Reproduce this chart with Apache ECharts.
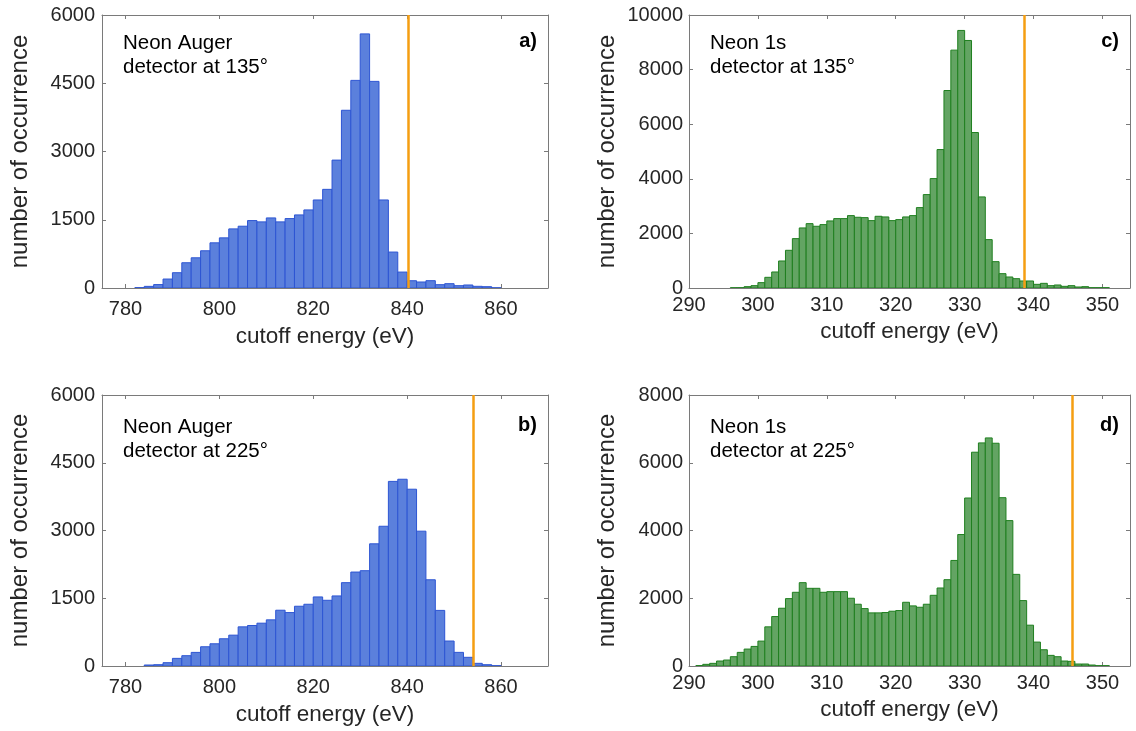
<!DOCTYPE html>
<html>
<head>
<meta charset="utf-8">
<script src="https://cdn.jsdelivr.net/npm/echarts@6/dist/echarts.min.js"></script>
<style>
  html, body { margin: 0; padding: 0; background: #ffffff; }
  #chart { width: 1136px; height: 731px; }
</style>
</head>
<body>
<div id="chart"></div>
<script>
// ---- Histogram data: left bin edges (eV) and counts ----
const augerBinWidth = 2;
const ne1sBinWidth = 1;

const auger135Left = [782, 784, 786, 788, 790, 792, 794, 796, 798, 800, 802, 804, 806, 808, 810, 812, 814, 816, 818, 820,
  822, 824, 826, 828, 830, 832, 834, 836, 838, 840, 842, 844, 846, 848, 850, 852, 854, 856, 858];
const auger135Counts = [8, 36, 75, 197, 336, 555, 664, 818, 993, 1102, 1299, 1358, 1482, 1453, 1540, 1453, 1526, 1606, 1716, 1935,
  2168, 2811, 3906, 4563, 5585, 4541, 1935, 790, 350, 160, 132, 161, 73, 95, 51, 66, 37, 29, 5];

const auger225Left = [784, 786, 788, 790, 792, 794, 796, 798, 800, 802, 804, 806, 808, 810, 812, 814, 816, 818, 820, 822,
  824, 826, 828, 830, 832, 834, 836, 838, 840, 842, 844, 846, 848, 850, 852, 854, 856, 858];
const auger225Counts = [22, 29, 73, 169, 228, 301, 426, 492, 603, 683, 867, 897, 948, 1022, 1235, 1183, 1323, 1367, 1529, 1455,
  1551, 1845, 2080, 2110, 2705, 3094, 4087, 4135, 3914, 2985, 1909, 1231, 553, 302, 192, 59, 29, 7];

const ne1s135Left = [296, 297, 298, 299, 300, 301, 302, 303, 304, 305, 306, 307, 308, 309, 310, 311, 312, 313, 314, 315,
  316, 317, 318, 319, 320, 321, 322, 323, 324, 325, 326, 327, 328, 329, 330, 331, 332, 333, 334, 335,
  336, 337, 338, 339, 340, 341, 342, 343, 344, 345, 346, 347, 348, 349, 350];
const ne1s135Counts = [10, 12, 49, 86, 196, 391, 587, 990, 1381, 1809, 2200, 2358, 2261, 2322, 2456, 2542, 2542, 2652, 2591, 2578,
  2468, 2627, 2603, 2468, 2505, 2603, 2652, 2945, 3422, 4008, 5071, 7234, 8713, 9434, 9067, 5695, 3336, 1772, 965, 525,
  403, 342, 257, 257, 134, 171, 86, 110, 61, 86, 37, 49, 12, 12, 12];

const ne1s225Left = [291, 292, 293, 294, 295, 296, 297, 298, 299, 300, 301, 302, 303, 304, 305, 306, 307, 308, 309, 310,
  311, 312, 313, 314, 315, 316, 317, 318, 319, 320, 321, 322, 323, 324, 325, 326, 327, 328, 329, 330,
  331, 332, 333, 334, 335, 336, 337, 338, 339, 340, 341, 342, 343, 344, 345, 346, 347, 348, 349, 350];
const ne1s225Counts = [12, 49, 78, 147, 176, 274, 402, 500, 578, 735, 1156, 1460, 1705, 1989, 2176, 2460, 2293, 2293, 2176, 2195,
  2195, 2195, 2000, 1823, 1695, 1568, 1568, 1578, 1617, 1637, 1881, 1774, 1734, 1823, 2087, 2303, 2548, 3116, 3881, 4959,
  6311, 6586, 6733, 6576, 4969, 4292, 2705, 1931, 1205, 706, 480, 314, 274, 147, 137, 59, 59, 29, 10, 10];

// Cutoff positions (eV) drawn as vertical markers
const cutoffAuger135 = 840.2;
const cutoffAuger225 = 854.0;
const cutoffNe1s135 = 338.6;
const cutoffNe1s225 = 345.6;

// Axis ranges and tick labels
const augerRange = [775, 870];
const ne1sRange = [290, 354];
const augerTicks = [780, 800, 820, 840, 860];
const ne1sTicks = [290, 300, 310, 320, 330, 340, 350];
const augerCountTicks = [0, 1500, 3000, 4500, 6000];
const ne1s135CountTicks = [0, 2000, 4000, 6000, 8000, 10000];
const ne1s225CountTicks = [0, 2000, 4000, 6000, 8000];

// Panel texts
const panels = [
  { tag: 'a)', line1: 'Neon Auger', line2: 'detector at 135°' },
  { tag: 'b)', line1: 'Neon Auger', line2: 'detector at 225°' },
  { tag: 'c)', line1: 'Neon 1s', line2: 'detector at 135°' },
  { tag: 'd)', line1: 'Neon 1s', line2: 'detector at 225°' }
];

// ---- Styling / layout ----
const FONT = '"Liberation Sans", Arial, Helvetica, sans-serif';
const TEXT_COLOR = '#262626';
const BOX_COLOR = '#7a7a7a';
const BLUE_FILL = '#5b80dc';
const BLUE_EDGE = '#2d55d3';
const GREEN_FILL = '#63a463';
const GREEN_EDGE = '#1f7f1f';
const ORANGE = '#f59e12';

const grids = [
  { left: 102, top: 15, width: 446, height: 273 },   // a
  { left: 102, top: 395, width: 446, height: 271 },  // b
  { left: 689, top: 15, width: 441, height: 273 },   // c
  { left: 689, top: 395, width: 441, height: 271 }   // d
];

function binData(left, counts, width) {
  return left.map((x, i) => [x, x + width, counts[i]]);
}

function histRender(fill, edge) {
  return function (params, api) {
    const topLeft = api.coord([api.value(0), api.value(2)]);
    const bottomRight = api.coord([api.value(1), 0]);
    return {
      type: 'rect',
      shape: {
        x: topLeft[0],
        y: topLeft[1],
        width: bottomRight[0] - topLeft[0],
        height: bottomRight[1] - topLeft[1]
      },
      style: { fill: fill, stroke: edge, lineWidth: 1 }
    };
  };
}

const plainNumber = v => String(v);

function bottomAxis(gridIndex, range, ticks, labelMargin, nameGap) {
  return {
    type: 'value', gridIndex: gridIndex, position: 'bottom',
    min: range[0], max: range[1],
    name: 'cutoff energy (eV)', nameLocation: 'middle', nameGap: nameGap,
    nameTextStyle: { fontFamily: FONT, fontSize: 22.5, color: TEXT_COLOR },
    axisLine: { show: true, onZero: false, lineStyle: { color: BOX_COLOR, width: 1 } },
    axisTick: { show: true, inside: true, length: 4, customValues: ticks, lineStyle: { color: BOX_COLOR } },
    axisLabel: { show: true, customValues: ticks, margin: labelMargin, formatter: plainNumber,
      fontFamily: FONT, fontSize: 20, color: TEXT_COLOR },
    splitLine: { show: false }
  };
}

function topAxis(gridIndex, range, ticks) {
  return {
    type: 'value', gridIndex: gridIndex, position: 'top',
    min: range[0], max: range[1],
    axisLine: { show: true, onZero: false, lineStyle: { color: BOX_COLOR, width: 1 } },
    axisTick: { show: true, inside: true, length: 4, customValues: ticks, lineStyle: { color: BOX_COLOR } },
    axisLabel: { show: false },
    splitLine: { show: false }
  };
}

function leftAxis(gridIndex, ticks, labelMargin) {
  return {
    type: 'value', gridIndex: gridIndex, position: 'left',
    min: ticks[0], max: ticks[ticks.length - 1], interval: ticks[1] - ticks[0],
    name: 'number of occurrence', nameLocation: 'middle', nameGap: 70, nameRotate: 90,
    nameTextStyle: { fontFamily: FONT, fontSize: 24, color: TEXT_COLOR },
    axisLine: { show: true, onZero: false, lineStyle: { color: BOX_COLOR, width: 1 } },
    axisTick: { show: true, inside: true, length: 4, lineStyle: { color: BOX_COLOR } },
    axisLabel: { show: true, margin: labelMargin, formatter: plainNumber,
      fontFamily: FONT, fontSize: 20, color: TEXT_COLOR },
    splitLine: { show: false }
  };
}

function rightAxis(gridIndex, ticks) {
  return {
    type: 'value', gridIndex: gridIndex, position: 'right',
    min: ticks[0], max: ticks[ticks.length - 1], interval: ticks[1] - ticks[0],
    axisLine: { show: true, onZero: false, lineStyle: { color: BOX_COLOR, width: 1 } },
    axisTick: { show: true, inside: true, length: 4, lineStyle: { color: BOX_COLOR } },
    axisLabel: { show: false },
    splitLine: { show: false }
  };
}

function histSeries(idx, data, fill, edge, cutoff) {
  return {
    type: 'custom', xAxisIndex: idx, yAxisIndex: idx,
    renderItem: histRender(fill, edge),
    encode: { x: [0, 1], y: 2 },
    data: data,
    clip: true,
    silent: true,
    markLine: {
      silent: true,
      symbol: ['none', 'none'],
      label: { show: false },
      lineStyle: { color: ORANGE, width: 2.5, type: 'solid' },
      data: [{ xAxis: cutoff }]
    },
    z: 2
  };
}

function panelText(p, grid, capMid, lineGap) {
  return [
    {
      type: 'text', x: grid.left + 21, y: capMid,
      style: { text: p.line1, font: '20.5px ' + FONT, fill: '#000000', textAlign: 'left', textVerticalAlign: 'middle' }
    },
    {
      type: 'text', x: grid.left + 21, y: capMid + lineGap,
      style: { text: p.line2, font: '20.5px ' + FONT, fill: '#000000', textAlign: 'left', textVerticalAlign: 'middle' }
    },
    {
      type: 'text', x: grid.left + grid.width - 11, y: capMid - 2,
      style: { text: p.tag, font: 'bold 20px ' + FONT, fill: '#000000', textAlign: 'right', textVerticalAlign: 'middle' }
    }
  ];
}

const chart = echarts.init(document.getElementById('chart'), null, { renderer: 'canvas' });

const option = {
  backgroundColor: '#ffffff',
  animation: false,
  grid: grids.map(g => Object.assign({ containLabel: false }, g)),
  xAxis: [
    bottomAxis(0, augerRange, augerTicks, 11, 37),
    bottomAxis(1, augerRange, augerTicks, 11, 37),
    bottomAxis(2, ne1sRange, ne1sTicks, 7, 32),
    bottomAxis(3, ne1sRange, ne1sTicks, 7, 32),
    topAxis(0, augerRange, augerTicks),
    topAxis(1, augerRange, augerTicks),
    topAxis(2, ne1sRange, ne1sTicks),
    topAxis(3, ne1sRange, ne1sTicks)
  ],
  yAxis: [
    leftAxis(0, augerCountTicks, 7),
    leftAxis(1, augerCountTicks, 7),
    leftAxis(2, ne1s135CountTicks, 6),
    leftAxis(3, ne1s225CountTicks, 6),
    rightAxis(0, augerCountTicks),
    rightAxis(1, augerCountTicks),
    rightAxis(2, ne1s135CountTicks),
    rightAxis(3, ne1s225CountTicks)
  ],
  series: [
    histSeries(0, binData(auger135Left, auger135Counts, augerBinWidth), BLUE_FILL, BLUE_EDGE, cutoffAuger135),
    histSeries(1, binData(auger225Left, auger225Counts, augerBinWidth), BLUE_FILL, BLUE_EDGE, cutoffAuger225),
    histSeries(2, binData(ne1s135Left, ne1s135Counts, ne1sBinWidth), GREEN_FILL, GREEN_EDGE, cutoffNe1s135),
    histSeries(3, binData(ne1s225Left, ne1s225Counts, ne1sBinWidth), GREEN_FILL, GREEN_EDGE, cutoffNe1s225)
  ],
  graphic: [].concat(
    panelText(panels[0], grids[0], 43, 24),
    panelText(panels[1], grids[1], 427.5, 24),
    panelText(panels[2], grids[2], 43, 24),
    panelText(panels[3], grids[3], 427.5, 24)
  )
};

chart.setOption(option);
</script>
</body>
</html>
